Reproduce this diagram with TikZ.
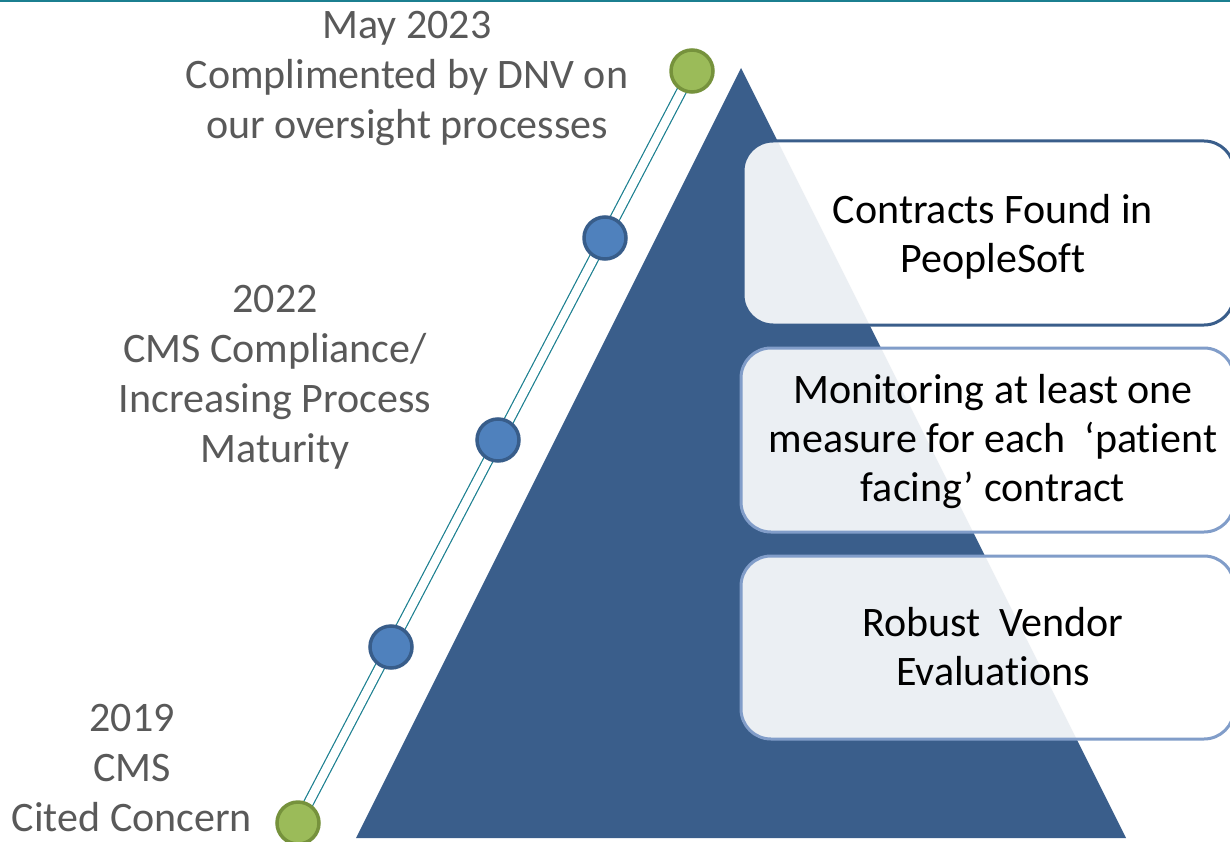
\documentclass[tikz,border=0pt]{standalone}
\usepackage{fontspec}
\setmainfont{Carlito}[Ligatures={NoCommon,NoContextual}]
\definecolor{tri}{HTML}{3A5E8B}
\definecolor{boxdark}{HTML}{3A5E8B}
\definecolor{boxlight}{HTML}{819DC9}
\definecolor{teal}{HTML}{1B7F90}
\definecolor{gfill}{HTML}{9BBB59}
\definecolor{gline}{HTML}{76923C}
\definecolor{bfill}{HTML}{4F81BD}
\definecolor{bline}{HTML}{385D8A}
\definecolor{graytxt}{HTML}{595959}
\pgfdeclarelayer{background}
\pgfsetlayers{background,main}
\tikzset{
  gdot/.style={circle,fill=gfill,draw=gline,line width=3.5pt,minimum size=42pt,inner sep=0pt},
  bdot/.style={circle,fill=bfill,draw=bline,line width=3.5pt,minimum size=42pt,inner sep=0pt},
  stage/.style={rounded corners=30pt,fill=white,fill opacity=0.9,line width=3pt,draw opacity=1},
  boxtxt/.style={align=center,font=\fontsize{42}{49}\selectfont,text=black,inner sep=0pt},
  sidetxt/.style={align=center,font=\fontsize{42}{50}\selectfont,text=graytxt,inner sep=0pt}
}
\begin{document}
\begin{tikzpicture}[x=1pt,y=-1pt]
\useasboundingbox (0,0) rectangle (1230,842);
\begin{pgfonlayer}{background}
\fill[white] (0,0) rectangle (1230,842);
\end{pgfonlayer}
% top rule
\coordinate (tl) at (0,1);
\coordinate (tr) at (1230,1);
\draw[teal,line width=2pt] (tl) -- (tr);
% timeline dots
\node[gdot] (g1) at (298,823) {};
\node[bdot] (b1) at (391,647) {};
\node[bdot] (b2) at (498,440) {};
\node[bdot] (b3) at (605,238) {};
\node[gdot] (g2) at (692,71) {};
\begin{pgfonlayer}{background}
\draw[teal,line width=1.2pt,double=white,double distance=8.5pt] (g1.center) -- (g2.center);
\end{pgfonlayer}
% pyramid
\coordinate (apex) at (741,68);
\coordinate (bl) at (356,838);
\coordinate (br) at (1126,838);
\fill[tri] (apex) -- (br) -- (bl) -- cycle;
% boxes
\draw[stage,draw=boxdark] (743,141) rectangle (1234,325);
\draw[stage,draw=boxlight] (741,348) rectangle (1234,532);
\draw[stage,draw=boxlight] (741,556) rectangle (1234,739);
\node[boxtxt] (t1) at (993,237) {Contracts Found in\\PeopleSoft};
\node[boxtxt] (t2) at (993,442) {Monitoring at least one\\measure for each~~‘patient\\facing’ contract};
\node[boxtxt] (t3) at (993,647) {Robust~~Vendor\\Evaluations};
% side labels
\node[sidetxt] (s1) at (407,78) {May 2023\\Complimented by DNV on\\our oversight processes};
\node[sidetxt] (s2) at (275,377) {2022\\CMS Compliance/\\Increasing Process\\Maturity};
\node[sidetxt] (s3) at (132,768) {2019\\CMS\\Cited Concern};
\end{tikzpicture}
\end{document}
